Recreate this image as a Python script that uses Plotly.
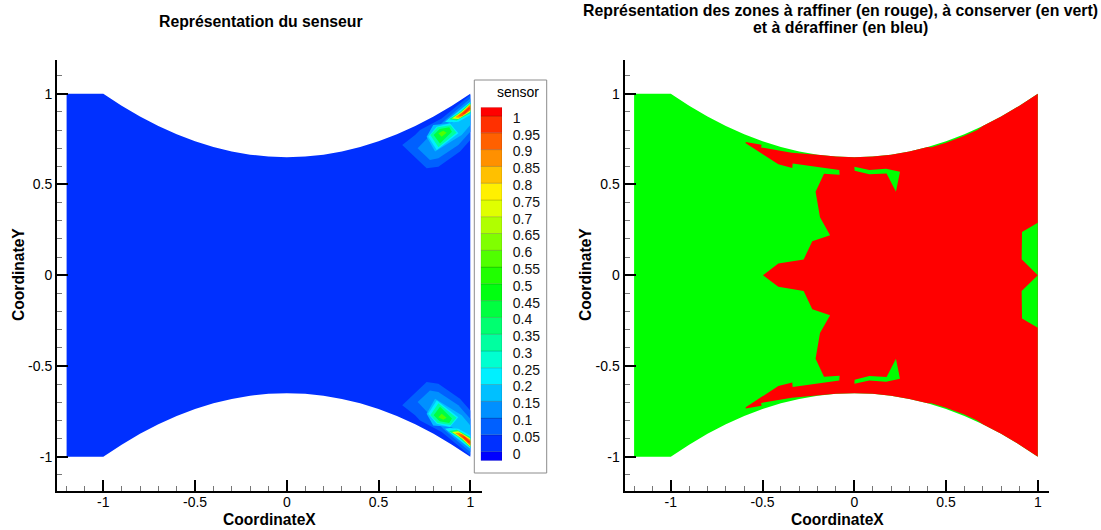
import plotly.graph_objects as go

W, H = 1101, 530
FONT = "Liberation Sans"

# wall of the channel, upper side
wall_x = [-1, -0.9, -0.8, -0.7, -0.6, -0.5, -0.4, -0.3, -0.2, -0.1, 0, 0.1, 0.2, 0.3, 0.4, 0.5, 0.6, 0.7, 0.8, 0.9, 1]
wall_y = [1, 0.9335, 0.874, 0.8215, 0.776, 0.7375, 0.706, 0.6815, 0.664, 0.6535, 0.65, 0.6535, 0.664, 0.6815, 0.706, 0.7375, 0.776, 0.8215, 0.874, 0.9335, 1]
inlet_x = -1.2

# legend
level_labels = ["0", "0.05", "0.1", "0.15", "0.2", "0.25", "0.3", "0.35", "0.4", "0.45", "0.5",
                "0.55", "0.6", "0.65", "0.7", "0.75", "0.8", "0.85", "0.9", "0.95", "1"]
level_values = [0, 0.05, 0.1, 0.15, 0.2, 0.25, 0.3, 0.35, 0.4, 0.45, 0.5,
                0.55, 0.6, 0.65, 0.7, 0.75, 0.8, 0.85, 0.9, 0.95, 1]
band_edges = [-0.027] + level_values + [1.026]
band_colors = ["#0000ff", "#0030ff", "#0060ff", "#0090ff", "#00c0ff", "#00f0ff",
               "#00ffd0", "#00ffa0", "#00ff70", "#00ff40", "#00ff10",
               "#20ff00", "#50ff00", "#80ff00", "#b0ff00", "#e0ff00",
               "#fff000", "#ffc000", "#ff9000", "#ff6000", "#ff3000", "#ff0000"]

# sensor contours near the upper right corner (mirrored for the lower one)
sensor_bands = [
    ("#0060ff", [0.629, 0.699, 0.726, 0.844, 1, 1, 0.944, 0.826, 0.762],
                [0.717, 0.772, 0.8, 0.864, 0.993, 0.745, 0.681, 0.598, 0.589]),
    ("#0090ff", [0.713, 0.771, 0.826, 0.862, 1, 1, 0.935, 0.826, 0.78],
                [0.699, 0.763, 0.818, 0.855, 0.974, 0.791, 0.717, 0.644, 0.635]),
    ("#00c0ff", [0.762, 0.798, 0.898, 1, 1, 0.953, 0.808], [0.763, 0.828, 0.837, 0.91, 0.828, 0.772, 0.681]),
    ("#00f0ff", [0.771, 0.817, 0.889, 0.935, 0.817], [0.763, 0.818, 0.837, 0.782, 0.69]),
    ("#00ffa0", [0.782, 0.822, 0.892, 0.925, 0.826], [0.772, 0.815, 0.826, 0.785, 0.705]),
    ("#00ff40", [0.8, 0.833, 0.885, 0.9, 0.835], [0.772, 0.805, 0.815, 0.79, 0.725]),
    ("#50ff00", [0.826, 0.853, 0.871, 0.844], [0.782, 0.796, 0.785, 0.763]),
    ("#00f0ff", [0.862, 0.917, 1, 1, 0.935, 0.889], [0.846, 0.888, 0.956, 0.883, 0.846, 0.842]),
    ("#00ff70", [0.883, 0.935, 1, 1, 0.926], [0.859, 0.892, 0.95, 0.892, 0.852]),
    ("#e0ff00", [0.9, 0.953, 1, 1, 0.935], [0.864, 0.9, 0.945, 0.9, 0.86]),
    ("#ff9000", [0.918, 0.962, 1, 1, 0.94], [0.87, 0.9, 0.94, 0.907, 0.868]),
    ("#ff6000", [0.935, 0.985, 1, 1, 0.955], [0.878, 0.92, 0.935, 0.912, 0.876]),
    ("#ff3000", [0.955, 0.993, 1, 0.97], [0.888, 0.925, 0.92, 0.89]),
]

# refine zone, upper half, from the axis at the left round to the right edge
red_x = [-0.4976, -0.414, -0.276, -0.229, -0.132, -0.187, -0.211, -0.165, -0.08, -0.082, -0.336, -0.338, -0.414,
         -0.592, -0.592, -0.505, -0.508, -0.341, -0.2, -0.1, 0, 0.1, 0.2, 0.3, 0.4, 0.42, 0.5, 0.6, 0.67, 0.7, 0.8, 0.9, 1]
red_y = [0, 0.064, 0.087, 0.187, 0.22, 0.319, 0.46, 0.559, 0.554, 0.58, 0.616, 0.591, 0.611,
         0.727, 0.734, 0.719, 0.704, 0.675, 0.664, 0.6535, 0.65, 0.6535, 0.664, 0.6815, 0.706, 0.705, 0.73, 0.768, 0.8, 0.8215, 0.874, 0.9335, 1]

# keep zones drawn on the refine zone
pocket_x = [0.0002, 0.082, 0.173, 0.249, 0.227, 0.176, 0.082, 0.002]
pocket_y = [0.598, 0.58, 0.587, 0.57, 0.46, 0.561, 0.556, 0.576]
edge_x = [1, 0.914, 0.912, 1, 0.912, 0.914, 1]
edge_y = [0.289, 0.238, 0.0876, 0, -0.0876, -0.238, -0.289]

axis_ticks = [-1, -0.5, 0, 0.5, 1]
axis_text = ["-1", "-0.5", "0", "0.5", "1"]

GREEN, RED, BASE = "#00ff00", "#ff0000", "#0030ff"

dom_x = [inlet_x] + wall_x + wall_x[::-1] + [inlet_x]
dom_y = [1] + wall_y + [-v for v in wall_y[::-1]] + [-1]


def poly(x, y, color, ax="x", ay="y"):
    return go.Scatter(x=x, y=y, mode="lines", fill="toself", fillcolor=color,
                      line=dict(width=0, color=color), hoverinfo="skip",
                      showlegend=False, xaxis=ax, yaxis=ay)


fig = go.Figure()
fig.add_trace(poly(dom_x, dom_y, BASE))
for col, bx, by in sensor_bands:
    fig.add_trace(poly(bx, by, col))
    fig.add_trace(poly(bx, [-v for v in by], col))

fig.add_trace(poly(dom_x, dom_y, GREEN, "x2", "y2"))
fig.add_trace(poly(red_x + red_x[::-1], red_y + [-v for v in red_y[::-1]], RED, "x2", "y2"))
fig.add_trace(poly(pocket_x, pocket_y, GREEN, "x2", "y2"))
fig.add_trace(poly(pocket_x, [-v for v in pocket_y], GREEN, "x2", "y2"))
fig.add_trace(poly(edge_x, edge_y, GREEN, "x2", "y2"))

fig.add_trace(go.Bar(x=[0] * len(band_colors), width=1, base=band_edges[:-1],
                     y=[b - a for a, b in zip(band_edges[:-1], band_edges[1:])],
                     marker=dict(color=band_colors, line=dict(width=0.5, color="rgba(0,0,0,0.3)")),
                     hoverinfo="skip", showlegend=False, xaxis="x3", yaxis="y3"))


def xax(left, right):
    zero = 286.8 if left < 500 else 854.3
    return dict(domain=[left / W, right / W], range=[(left - zero) / 183.5, (right - zero) / 183.5],
                tickmode="array", tickvals=axis_ticks, ticktext=axis_text,
                ticks="inside", ticklen=11, tickwidth=2, tickcolor="black", ticklabelstandoff=-3,
                minor=dict(ticks="inside", ticklen=5, tickwidth=1, dtick=0.1, tick0=0, tickcolor="#777777"),
                showline=True, linewidth=2, linecolor="black", showgrid=False, zeroline=False,
                tickfont=dict(family=FONT, size=14, color="black"))


def yax(anchor):
    return dict(domain=[1 - 491 / H, 1 - 60 / H], range=[(275.2 - 491) / 181.5, (275.2 - 60) / 181.5],
                anchor=anchor,
                tickmode="array", tickvals=axis_ticks, ticktext=axis_text,
                ticks="inside", ticklen=11, tickwidth=2, tickcolor="black",
                minor=dict(ticks="inside", ticklen=5, tickwidth=1, dtick=0.1, tick0=0, tickcolor="#777777"),
                showline=True, linewidth=2, linecolor="black", showgrid=False, zeroline=False,
                tickfont=dict(family=FONT, size=14, color="black"))


def note(text, px, py, size=15.6, bold=True, angle=0, xanchor="center"):
    return dict(text=f"<b>{text}</b>" if bold else text, x=px / W, y=1 - py / H, xref="paper", yref="paper",
                showarrow=False, xanchor=xanchor, yanchor="middle", textangle=angle, align="center",
                font=dict(family=FONT, size=size, color="black"))


fig.update_layout(
    width=W, height=H, margin=dict(l=0, r=0, t=0, b=0, autoexpand=False),
    paper_bgcolor="white", plot_bgcolor="rgba(0,0,0,0)", barmode="overlay", hovermode=False,
    xaxis=xax(57, 481.7), yaxis=yax("x"),
    xaxis2=xax(624.5, 1049.2), yaxis2=yax("x2"),
    xaxis3=dict(domain=[480.7 / W, 502 / W], range=[-0.5, 0.5], visible=False, anchor="y3"),
    yaxis3=dict(domain=[1 - 460.7 / H, 1 - 107.3 / H], range=[band_edges[0], band_edges[-1]], anchor="x3",
                side="right", tickmode="array", tickvals=level_values, ticktext=level_labels,
                ticks="outside", ticklen=7, tickcolor="rgba(0,0,0,0)", showline=False, showgrid=False,
                zeroline=False, ticklabelshift=2,
                tickfont=dict(family=FONT, size=14, color="#111111")),
    shapes=[dict(type="rect", xref="paper", yref="paper", x0=474.3 / W, x1=546.7 / W,
                 y0=1 - 473 / H, y1=1 - 80 / H, line=dict(color="#8c8c8c", width=1),
                 fillcolor="white", layer="below")],
    annotations=[
        note("Représentation du senseur", 261, 22, size=15.8),
        note("Représentation des zones à raffiner (en rouge), à conserver (en vert)", 840.5, 11, size=15.85),
        note("et à déraffiner (en bleu)", 840.5, 28, size=15.85),
        note("CoordinateX", 269.5, 519),
        note("CoordinateX", 837, 519),
        note("CoordinateY", 18, 275, angle=-90),
        note("CoordinateY", 585, 275, angle=-90),
        note("sensor", 541, 92, size=14, bold=False, xanchor="right"),
    ],
)

fig.write_html("out.html", post_script="document.body.style.margin='0';",
               config=dict(displayModeBar=False))
